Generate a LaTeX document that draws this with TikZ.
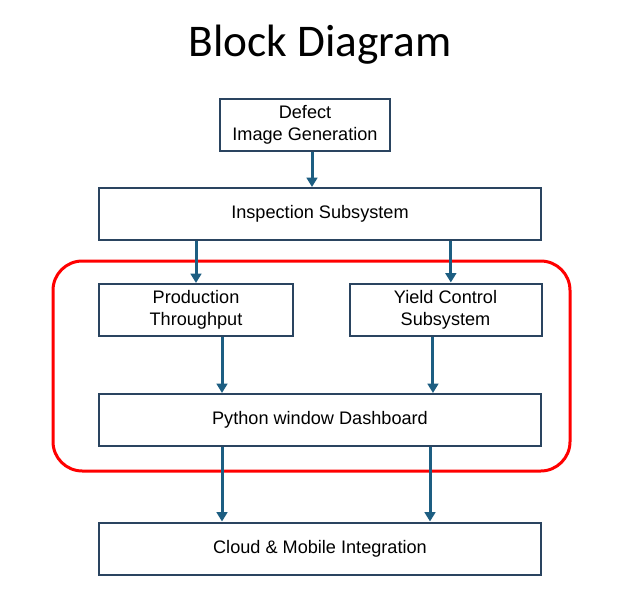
\documentclass[tikz,border=0pt]{standalone}
\usepackage{fontspec}
\setmainfont{Liberation Sans}
\newfontfamily\titlefont{Carlito}
\usetikzlibrary{arrows.meta}
\definecolor{boxline}{HTML}{2A4460}
\definecolor{flowblue}{HTML}{1D5E82}
\begin{document}
\begin{tikzpicture}[x=0.75pt,y=-0.75pt,
    block/.style={draw=boxline,line width=1.5pt,fill=white,minimum height=39pt,align=center,
      inner sep=0pt,font=\fontsize{13.6}{16.5}\selectfont},
    flow/.style={draw=flowblue,line width=2.25pt,-{Triangle[length=7pt,width=8pt]}}]
  \useasboundingbox (0,0) rectangle (642,600);
  \node[anchor=base,font=\titlefont\fontsize{34}{40}\selectfont] (title) at (320,56) {Block Diagram};
  \draw[red,line width=2.25pt,rounded corners=22pt] (53,261) rectangle (570,471);
  \node[block,minimum width=127.5pt] (defect) at (305,125) {Defect\\Image Generation};
  \node[block,minimum width=332pt] (insp) at (320,214) {Inspection Subsystem};
  \node[block,minimum width=145.5pt] (prod) at (196,310) {Production\\Throughput};
  \node[block,minimum width=144pt] (yield) at (445.5,309.5) {Yield Control\\Subsystem};
  \node[block,minimum width=332pt] (python) at (320,420) {Python window Dashboard};
  \node[block,minimum width=332pt] (cloud) at (320,548.5) {Cloud \& Mobile Integration};
  \coordinate (yin) at ([xshift=4pt]yield.north);
  \draw[flow] ([xshift=5.25pt]defect.south) -- ([xshift=5.25pt]defect.south |- insp.north);
  \draw[flow] (insp.south -| prod.north) -- (prod.north);
  \draw[flow] (insp.south -| yin) -- (yin);
  \draw[flow] ([xshift=19.5pt]prod.south) -- ([xshift=19.5pt]prod.south |- python.north);
  \draw[flow] ([xshift=-9.4pt]yield.south) -- ([xshift=-9.4pt]yield.south |- python.north);
  \draw[flow] ([xshift=-73.5pt]python.south) -- ([xshift=-73.5pt]python.south |- cloud.north);
  \draw[flow] ([xshift=82.5pt]python.south) -- ([xshift=82.5pt]python.south |- cloud.north);
\end{tikzpicture}
\end{document}
